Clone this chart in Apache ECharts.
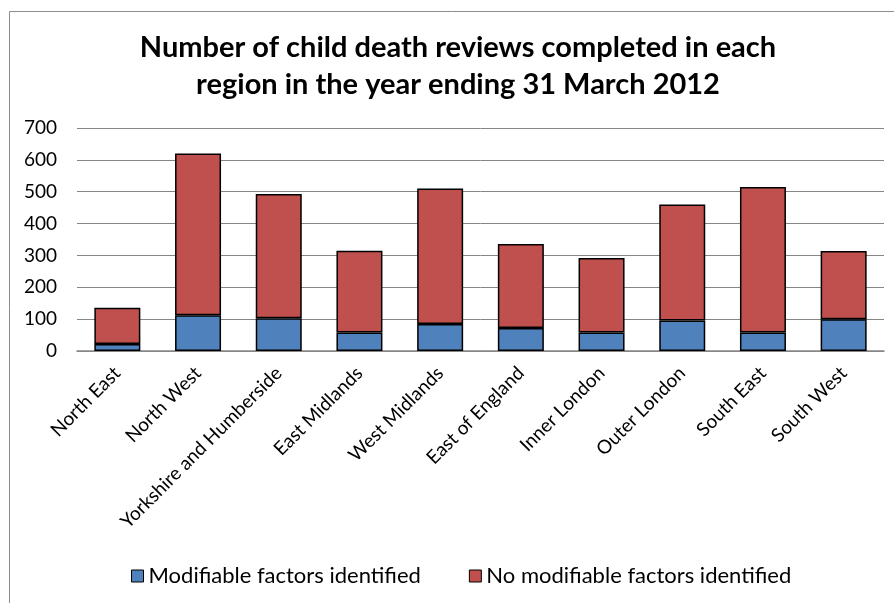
<!DOCTYPE html>
<html>
<head>
<meta charset="utf-8">
<script src="https://cdn.jsdelivr.net/npm/echarts@6/dist/echarts.min.js"></script>
<style>
  html, body { margin: 0; padding: 0; background: #fff; }
  #chart { width: 894px; height: 603px; }
</style>
</head>
<body>
<div id="chart"></div>
<script>
// Regions of England
const regions = [
  'North East', 'North West', 'Yorkshire and Humberside', 'East Midlands',
  'West Midlands', 'East of England', 'Inner London', 'Outer London',
  'South East', 'South West'
];
// Reviews where modifiable factors were identified
const modifiable = [22, 112, 103, 58, 85, 72, 58, 96, 58, 100];
// Reviews where no modifiable factors were identified
const notModifiable = [114, 508, 390, 257, 425, 264, 234, 364, 457, 214];

const seriesNames = ['Modifiable factors identified', 'No modifiable factors identified'];
const yTicks = { min: 0, max: 700, interval: 100 };

const font = 'Lato, "Open Sans", sans-serif';

const chart = echarts.init(document.getElementById('chart'), null, { renderer: 'canvas' });

chart.setOption({
  animation: false,
  backgroundColor: '#fff',
  title: {
    text: 'Number of child death reviews completed in each\nregion in the year ending 31 March 2012',
    left: 453,
    textAlign: 'center',
    top: 24,
    textStyle: { fontFamily: font, fontWeight: 'bold', fontSize: 29, lineHeight: 37, color: '#000' }
  },
  graphic: [{
    type: 'rect',
    shape: { x: 9.5, y: 11.5, width: 900, height: 600 },
    style: { fill: 'none', stroke: '#8c8c8c', lineWidth: 1 },
    silent: true
  }],
  legend: {
    bottom: 11,
    left: 126,
    itemWidth: 12,
    itemHeight: 12,
    itemGap: 48,
    icon: 'rect',
    textStyle: { fontFamily: font, fontSize: 22, color: '#000' },
    itemStyle: { borderColor: '#000', borderWidth: 1 },
    data: seriesNames
  },
  grid: { left: 77, right: 10, top: 128, bottom: 252, containLabel: false },
  xAxis: {
    type: 'category',
    data: regions,
    axisLine: { lineStyle: { color: '#868686', width: 1.5 } },
    axisTick: { show: false },
    axisLabel: {
      rotate: 45,
      interval: 0,
      margin: 19,
      fontFamily: font,
      fontSize: 19,
      color: '#000'
    }
  },
  yAxis: {
    type: 'value',
    min: yTicks.min,
    max: yTicks.max,
    interval: yTicks.interval,
    axisLine: { show: false },
    axisTick: { show: false },
    axisLabel: { fontFamily: font, fontSize: 19, color: '#000', margin: 20 },
    splitLine: { lineStyle: { color: '#868686', width: 1 } }
  },
  series: [
    {
      name: seriesNames[0],
      type: 'bar',
      stack: 'total',
      data: modifiable,
      barWidth: '57%',
      itemStyle: { color: '#4F81BD', borderColor: '#000', borderWidth: 1.5 }
    },
    {
      name: seriesNames[1],
      type: 'bar',
      stack: 'total',
      data: notModifiable,
      barWidth: '57%',
      itemStyle: { color: '#C0504D', borderColor: '#000', borderWidth: 1.5 }
    }
  ]
});
</script>
</body>
</html>
